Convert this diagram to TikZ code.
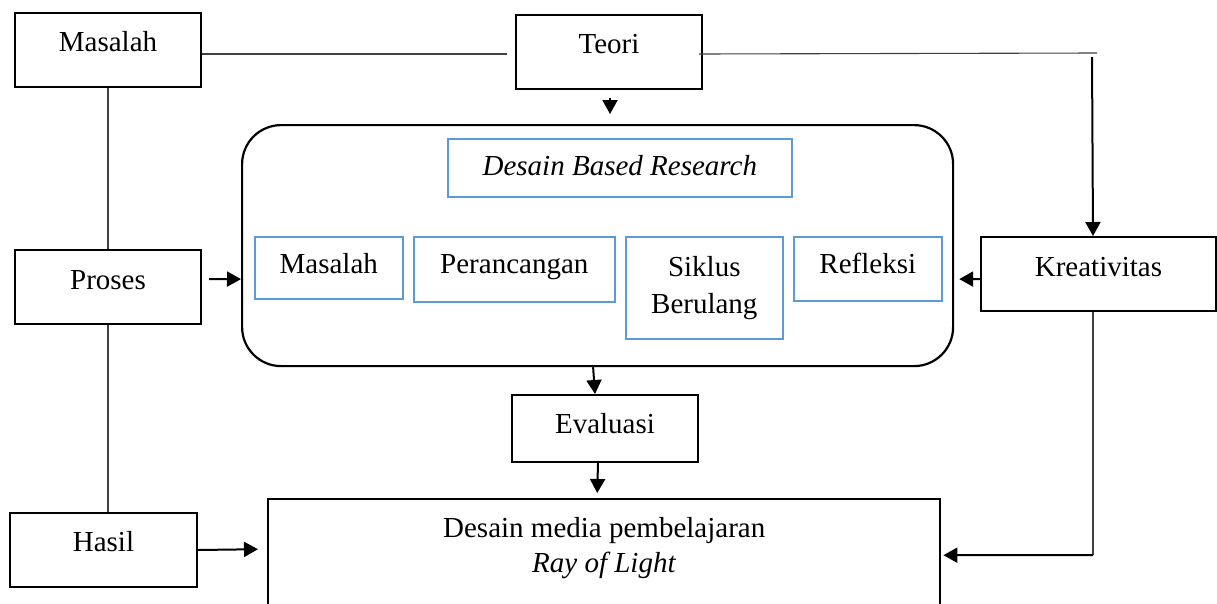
\documentclass[tikz,border=0pt]{standalone}
\usepackage{fontspec}
\setmainfont{Liberation Serif}
\usetikzlibrary{arrows.meta,calc}
\definecolor{lblue}{RGB}{91,155,213}
\definecolor{thingray}{RGB}{64,64,64}
\tikzset{
  bbox/.style={draw, line width=2pt, inner sep=0pt, anchor=north west},
  blbox/.style={draw=lblue, line width=1.6pt, inner sep=0pt, anchor=north west},
  thinln/.style={draw=thingray, line width=1.1pt},
  arr/.style={line width=2pt, -{Triangle[width=15pt,length=14pt]}},
}
\begin{document}
\begin{tikzpicture}[x=1pt,y=-1pt,font=\fontsize{29pt}{36pt}\selectfont]
\useasboundingbox (0,0) rectangle (1217,603);
\clip (0,0) rectangle (1217,603);
% black boxes
\node[bbox, minimum width=186pt, text height=38pt, text depth=36pt] (masalah) at (14,12) {Masalah};
\node[bbox, minimum width=186pt, text height=38pt, text depth=36pt] (teori) at (515,14) {Teori};
\node[bbox, minimum width=186pt, text height=39pt, text depth=35pt] (proses) at (14,249) {Proses};
\node[bbox, minimum width=187pt, text height=38pt, text depth=36pt] (hasil) at (9,512) {Hasil};
\node[bbox, minimum width=235pt, text height=39pt, text depth=35pt] (kreat) at (980,236) {Kreativitas};
\node[bbox, minimum width=186pt, text height=38pt, text depth=29pt] (evaluasi) at (511,394) {Evaluasi};
% rounded container
\node[draw, line width=2.2pt, rounded corners=39pt, inner sep=0pt, anchor=north west,
      minimum width=711pt, minimum height=241pt] (round) at (241,124) {};
% blue boxes
\node[blbox, minimum width=344pt, text height=37pt, text depth=21pt] (dbr) at (447,138) {\textit{Desain Based Research}};
\node[blbox, minimum width=148pt, text height=37pt, text depth=25pt] (bmasalah) at (254,236) {Masalah};
\node[blbox, minimum width=201pt, text height=37pt, text depth=28pt] (bper) at (413,236) {Perancangan};
\node[blbox, minimum width=157pt, minimum height=102pt, align=center, font=\fontsize{29pt}{37pt}\selectfont] (bsik) at (625,236) {Siklus\\Berulang};
\node[blbox, minimum width=148pt, text height=37pt, text depth=27pt] (bref) at (793,236) {Refleksi};
% result box (open at the bottom of the picture)
\node[inner sep=0pt, anchor=north west, minimum width=672pt, minimum height=98pt, align=center,
      font=\fontsize{29pt}{35pt}\selectfont] (desain) at (268,499) {Desain media pembelajaran\\\textit{Ray of Light}};
\draw[line width=2pt] ($(desain.north west)+(0,140)$) -- (desain.north west) -- (desain.north east) -- ($(desain.north east)+(0,140)$);
% coordinates for bends
\coordinate (tk) at (1097,53);
\coordinate (tkd) at (1092,57);
\coordinate (kb) at (1093,555);
% thin lines
\draw[thinln] ($(masalah.east)+(0,4)$) -- ($(teori.west)+(-8,2)$);
\draw[thinln] ($(teori.east)+(-4,2)$) -- (tk);
\draw[thinln] (masalah.south) -- (proses.north);
\draw[thinln] (proses.south) -- (hasil.north -| proses.south);
\draw[thinln] ($(kreat.south)+(-5.5,0)$) -- (kb);
% arrows
\draw[arr] (tkd) -- ($(kreat.north)+(-5.5,0)$);
\draw[arr] ($(teori.south)+(1,8)$) -- ($(teori.south)+(1,24)$);
\draw[arr] ($(proses.east)+(7,-8)$) -- ($(round.west)+(0,33.5)$);
\draw[arr] ($(kreat.west)+(0,5)$) -- ($(round.east)+(5,33.5)$);
\draw[arr] ($(round.south)+(-4.5,0)$) -- ($(evaluasi.north)+(-10,0)$);
\draw[arr] ($(evaluasi.south)+(-7,0)$) -- ($(desain.north)+(-7,-6)$);
\draw[arr] (hasil.east) -- ($(desain.west)+(-10,1)$);
\draw[arr] (kb) -- ($(desain.east)+(3,7)$);
\end{tikzpicture}
\end{document}
